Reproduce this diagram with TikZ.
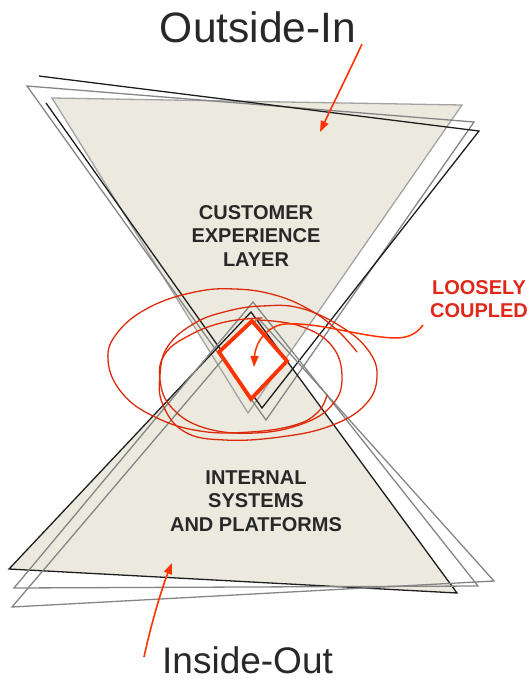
\documentclass[tikz,border=0pt]{standalone}
\usepackage{fontspec}
\setmainfont{Liberation Sans}
\usetikzlibrary{arrows.meta}
\definecolor{paper}{HTML}{ECEADF}
\definecolor{ink}{HTML}{1E1E1E}
\definecolor{midgray}{HTML}{858585}
\definecolor{softgray}{HTML}{A3A3A3}
\definecolor{scribble}{HTML}{DC2A0C}
\definecolor{hot}{HTML}{FF3300}
\definecolor{labelred}{HTML}{E0281A}
\definecolor{textdark}{HTML}{282828}
\begin{document}
\begin{tikzpicture}[x=1pt,y=-1pt,
  edge/.style={line width=1.3pt, line join=miter},
  loop/.style={scribble, line width=1.3pt, line cap=round},
  pointer/.style={hot, line width=1.6pt, -{Triangle[length=11pt,width=8pt]}},
  bigtitle/.style={text=textdark, inner sep=0pt},
  layertext/.style={font=\bfseries\fontsize{20}{23.5}\selectfont, text=textdark, align=center, inner sep=0pt}]
\useasboundingbox (0,0) rectangle (529,681);

% corners of the upper (inverted) triangles
\coordinate (ua1) at (52,98);  \coordinate (ub1) at (462,105); \coordinate (uc1) at (248,413);
\coordinate (ua2) at (27,86);  \coordinate (ub2) at (474,122); \coordinate (uc2) at (266,420);
\coordinate (ua3) at (39,76);  \coordinate (ub3) at (479,131); \coordinate (uc3) at (262,408);
\coordinate (ud3) at (46,103);
% corners of the lower triangles
\coordinate (la1) at (9,569);  \coordinate (lb1) at (457,593); \coordinate (lc1) at (251,312);
\coordinate (la2) at (14,588); \coordinate (lb2) at (478,586); \coordinate (lc2) at (253,302);
\coordinate (la3) at (12,607); \coordinate (lb3) at (494,581); \coordinate (lc3) at (258,318);

% filled layers
\fill[paper] (ua1) -- (ub1) -- (uc1) -- cycle;
\fill[paper] (la1) -- (lb1) -- (lc1) -- cycle;

% sketchy outlines
\draw[edge, softgray] (ua1) -- (ub1) -- (uc1) -- cycle;
\draw[edge, midgray] (ua2) -- (ub2) -- (uc2) -- cycle;
\draw[edge, ink] (ud3) -- (uc3) -- (ub3) -- (ua3);
\draw[edge, ink] (la1) -- (lb1) -- (lc1) -- cycle;
\draw[edge, midgray] (la2) -- (lb2) -- (lc2) -- cycle;
\draw[edge, midgray] (la3) -- (lb3) -- (lc3) -- cycle;

% the coupling point
\draw[hot, line width=3.8pt, fill=white, line join=miter]
  (252,321) -- (287,361) -- (251,399) -- (219,352) -- cycle;

% scribbled rings around the coupling point
\draw[loop] plot[smooth, tension=0.7] coordinates {
  (327,395) (318,412) (295,425) (250,432) (200,431) (155,417) (122,393)
  (108,360) (118,332) (150,307) (195,292) (235,289) (275,295) (310,310)
  (337,330) (357,352)};
\draw[loop] plot[smooth cycle, tension=0.7] coordinates {
  (262,306) (300,308) (340,326) (368,350) (377,377) (365,405) (330,426)
  (280,437) (225,440) (185,432) (163,405) (160,375) (168,346) (195,323)
  (228,311)};
\draw[loop] plot[smooth, tension=0.7] coordinates {
  (258,320) (300,326) (332,346) (342,378) (332,405) (302,424) (255,433)
  (205,428) (172,408) (160,380) (165,354) (190,335) (225,322) (262,318)};

% leader from the label into the coupling point
\coordinate (leadstart) at (423,325);
\coordinate (leadend) at (254,367);
\draw[pointer, line width=1.5pt] (leadstart) .. controls (415,336) and (405,338) .. (395,338)
  .. controls (360,337) and (320,322) .. (285,324)
  .. controls (265,326) and (255,345) .. (leadend);

% labels
\node[bigtitle, font=\fontsize{42.5}{48}\selectfont, anchor=base] (outin) at (258,42) {Outside-In};
\node[bigtitle, font=\fontsize{37}{42}\selectfont, anchor=base west] (inout) at (162,673) {Inside-Out};
\node[layertext] (cx) at (256,236) {CUSTOMER\\EXPERIENCE\\LAYER};
\node[layertext] (isp) at (256,501) {INTERNAL\\SYSTEMS\\AND PLATFORMS};
\node[layertext, text=labelred] (lc) at (479,299) {LOOSELY\\COUPLED};

% pointers from the titles into the layers
\coordinate (topstart) at (362,44);
\coordinate (toptip) at (320,132);
\coordinate (botstart) at (144,657);
\coordinate (bottip) at (172,563);
\draw[pointer] (topstart) .. controls (350,70) and (335,100) .. (toptip);
\draw[pointer] (botstart) .. controls (152,620) and (163,585) .. (bottip);
\end{tikzpicture}
\end{document}
